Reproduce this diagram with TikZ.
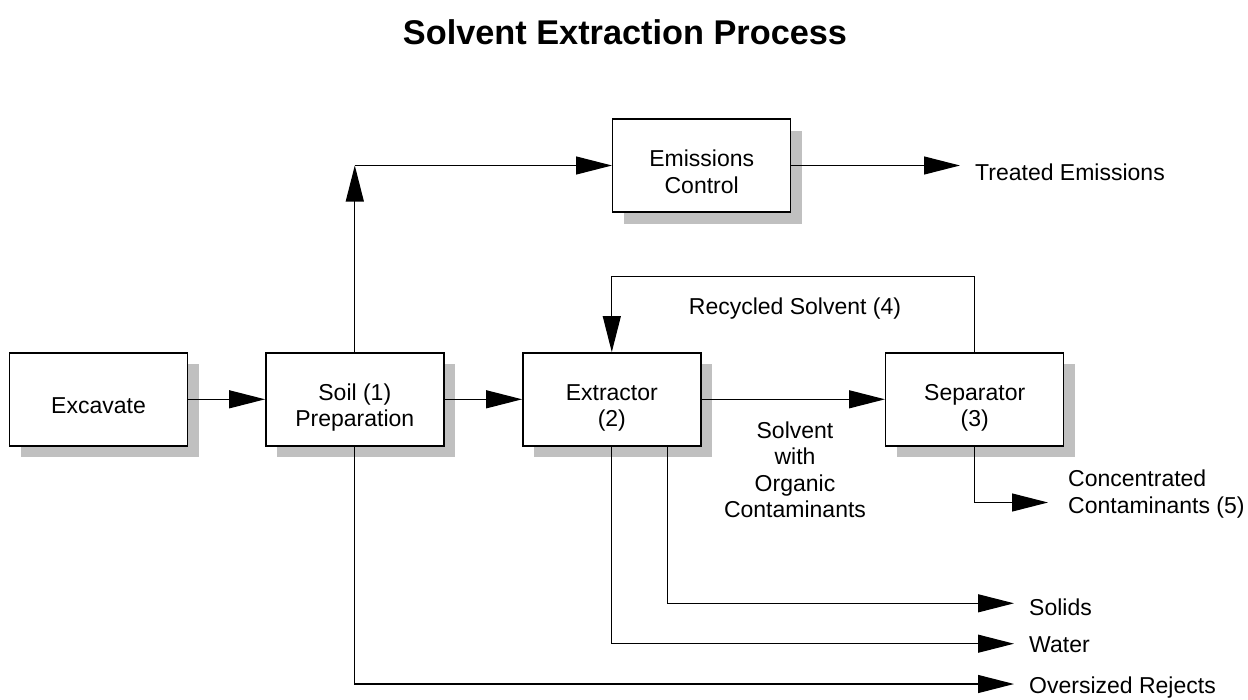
\documentclass[tikz,border=0pt]{standalone}
\usepackage{fontspec}
\setmainfont{Liberation Sans}
\usetikzlibrary{arrows.meta,shadows}
\definecolor{shadowgray}{RGB}{192,192,192}
\newcommand{\bodyfont}{\fontsize{23}{26.5}\selectfont}
\newcommand{\titlefont}{\bfseries\fontsize{34.3}{40}\selectfont}
\newcommand{\tstrut}{\rule{0pt}{33.5pt}}
\newcommand{\bstrut}{\rule[-5pt]{0pt}{5pt}}
\begin{document}
\begin{tikzpicture}[x=1pt,y=-1pt,
  box/.style={draw=black, line width=1.4pt, fill=white, minimum width=178pt,
    minimum height=93pt, inner sep=0pt, align=center, font=\bodyfont,
    drop shadow={shadow xshift=11.5pt, shadow yshift=-11.5pt, opacity=1,
      fill=shadowgray, draw=none}},
  lbl/.style={font=\bodyfont, inner sep=0pt},
  flow/.style={line width=1.2pt, -{Triangle[length=36pt,width=18pt]}},
  pipe/.style={line width=1.2pt}]
\useasboundingbox[fill=white] (0,0) rectangle (1248,699);

\node[font=\titlefont, inner sep=0pt] (title) at (625,32) {Solvent Extraction Process};

\node[box] (exc)  at (98.5,399.3)  {\tstrut Excavate\bstrut};
\node[box] (soil) at (354.8,399.3) {\tstrut Soil (1)\\Preparation\bstrut};
\node[box] (ext)  at (611.8,399.3) {\tstrut Extractor\\(2)\bstrut};
\node[box] (sep)  at (974.7,399.3) {\tstrut Separator\\(3)\bstrut};
\node[box] (emi)  at (701.7,165.5) {\tstrut Emissions\\Control\bstrut};

% arrow tip coordinates
\coordinate (tTreated) at (960,165.5);
\coordinate (tConc)    at (1048,502.5);
\coordinate (tSolids)  at (1014,603.3);
\coordinate (tWater)   at (1014,643.7);
\coordinate (tOver)    at (1014,684);
\coordinate (rtop)     at (0,276.7);

% labels
\node[lbl, anchor=base west] (treated) at (975,180) {Treated Emissions};
\node[lbl, anchor=base] (recyc) at (795,314) {Recycled Solvent (4)};
\node[lbl, align=center] (swoc) at (795,470) {Solvent\\with\\Organic\\Contaminants};
\node[lbl, align=left, anchor=west] (conc) at (1068,494) {Concentrated\\Contaminants (5)};
\node[lbl, anchor=base west] (solids) at (1029,615) {Solids};
\node[lbl, anchor=base west] (water)  at (1029,652) {Water};
\node[lbl, anchor=base west] (over)   at (1029,693.3) {Oversized Rejects};

% connectors
\draw[flow] (exc) -- (soil);
\draw[flow] (soil) -- (ext);
\draw[flow] (ext) -- (sep);
\coordinate (c1) at (soil.north |- emi.west);
\draw[flow] (soil.north) -- (c1);
\draw[flow] (c1) -- (emi.west);
\draw[flow] (emi.east) -- (tTreated);
\draw[flow] (sep.north) -- (sep.north |- rtop) -| (ext.north);
\draw[flow] (sep.south) |- (tConc);
\draw[flow] ([xshift=56pt]ext.south) |- (tSolids);
\draw[flow] (ext.south) |- (tWater);
\draw[flow] (soil.south) |- (tOver);
\end{tikzpicture}
\end{document}
